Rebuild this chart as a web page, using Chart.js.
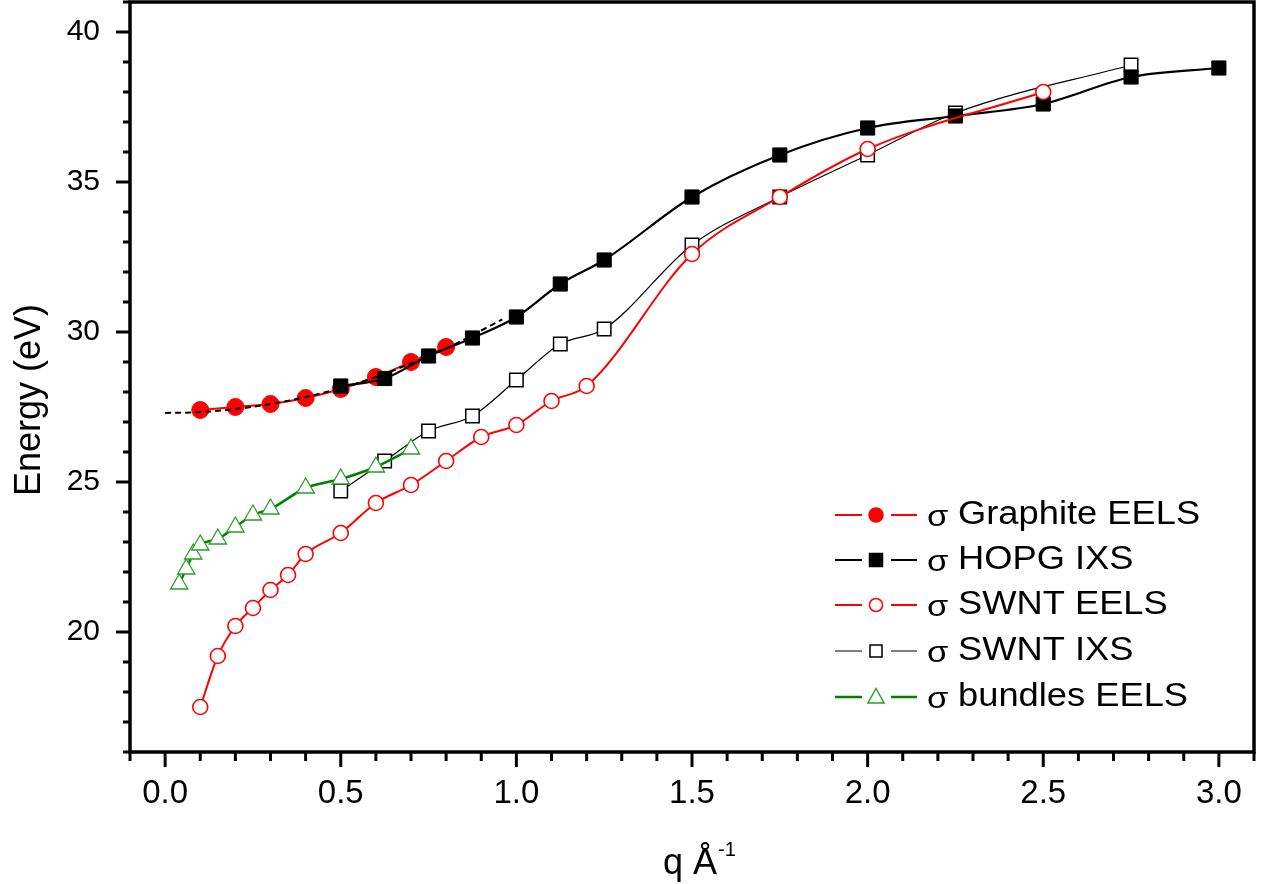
<!DOCTYPE html>
<html>
<head>
<meta charset="utf-8">
<script src="https://cdn.jsdelivr.net/npm/chart.js@4.4.1/dist/chart.umd.min.js"></script>
<style>
html,body{margin:0;padding:0;background:#fff;}
#wrap{width:1273px;height:884px;position:relative;}
</style>
</head>
<body>
<div id="wrap"><canvas id="c"></canvas></div>
<script>
// ---- data ----
const xTickValues = [0, 0.5, 1.0, 1.5, 2.0, 2.5, 3.0];
const yTickValues = [20, 25, 30, 35, 40];

const legendLabels = ['Graphite EELS', 'HOPG IXS', 'SWNT EELS', 'SWNT IXS', 'bundles EELS'];

const graphiteQ = [0.1, 0.2, 0.3, 0.4, 0.5, 0.6, 0.7, 0.8];
const graphiteE = [27.4, 27.5, 27.6, 27.8, 28.1, 28.5, 29.0, 29.5];

const hopgQ = [0.5, 0.625, 0.75, 0.875, 1.0, 1.125, 1.25, 1.5, 1.75, 2.0, 2.25, 2.5, 2.75, 3.0];
const hopgE = [28.2, 28.45, 29.2, 29.8, 30.5, 31.6, 32.4, 34.5, 35.9, 36.8, 37.2, 37.6, 38.5, 38.8];

const swntEelsQ = [0.1, 0.15, 0.2, 0.25, 0.3, 0.35, 0.4, 0.5, 0.6, 0.7, 0.8, 0.9, 1.0, 1.1, 1.2, 1.5, 1.75, 2.0, 2.5];
const swntEelsE = [17.5, 19.2, 20.2, 20.8, 21.4, 21.9, 22.6, 23.3, 24.3, 24.9, 25.7, 26.5, 26.9, 27.7, 28.2, 32.6, 34.5, 36.1, 38.0];

const swntIxsQ = [0.5, 0.625, 0.75, 0.875, 1.0, 1.125, 1.25, 1.5, 1.75, 2.0, 2.25, 2.75];
const swntIxsE = [24.7, 25.7, 26.7, 27.2, 28.4, 29.6, 30.1, 32.9, 34.5, 35.9, 37.3, 38.9];

const bundlesQ = [0.04, 0.06, 0.08, 0.1, 0.15, 0.2, 0.25, 0.3, 0.4, 0.5, 0.6, 0.7];
const bundlesE = [21.6, 22.1, 22.6, 22.9, 23.1, 23.5, 23.9, 24.1, 24.8, 25.1, 25.5, 26.1];

const fitQ = [0.0, 0.1, 0.2, 0.3, 0.4, 0.5, 0.6, 0.7, 0.8, 0.9, 0.96];
const fitE = [27.3, 27.33, 27.43, 27.6, 27.83, 28.13, 28.5, 28.95, 29.45, 30.05, 30.42];

// ---- helpers ----
const pts = (qs, es) => qs.map((q, i) => ({x: q, y: es[i]}));
const FONT = '"Liberation Sans", Arial, Helvetica, sans-serif';

const RED = '#ff0000', BLACK = '#000000', GREEN = '#008000';

// legend style descriptions (same styles as the datasets)
const legendStyles = [
  {color: RED,   lw: 2,   shape: 'circle',   fill: RED,   stroke: RED,   r: 7},
  {color: BLACK, lw: 2,   shape: 'rect',     fill: BLACK, stroke: BLACK, r: 6.5},
  {color: RED,   lw: 2,   shape: 'circle',   fill: '#fff', stroke: RED,  r: 6.5},
  {color: BLACK, lw: 1.2, shape: 'rect',     fill: '#fff', stroke: BLACK, r: 6},
  {color: GREEN, lw: 2.5, shape: 'triangle', fill: '#fff', stroke: '#2a9d2a', r: 8.5}
];

const framePlugin = {
  id: 'frame',
  afterDraw(chart) {
    const {ctx, chartArea: a, scales: {x, y}} = chart;
    ctx.save();
    ctx.strokeStyle = '#000';
    ctx.lineCap = 'butt';
    // x ticks (major every 0.5, minor every 0.1)
    for (let i = -1; i <= 31; i++) {
      const px = x.getPixelForValue(i / 10);
      const major = (i % 5 === 0);
      ctx.lineWidth = 3;
      ctx.beginPath();
      ctx.moveTo(px, a.bottom);
      ctx.lineTo(px, a.bottom + (major ? 15 : 9));
      ctx.stroke();
    }
    // y ticks (major every 5, minor every 1)
    for (let v = 16; v <= 41; v++) {
      const py = y.getPixelForValue(v);
      const major = (v % 5 === 0);
      ctx.lineWidth = 3;
      ctx.beginPath();
      ctx.moveTo(a.left, py);
      ctx.lineTo(a.left - (major ? 14 : 7), py);
      ctx.stroke();
    }
    // frame
    ctx.lineWidth = 3.5;
    ctx.strokeRect(a.left, a.top, a.right - a.left, a.bottom - a.top);

    // axis titles
    ctx.fillStyle = '#000';
    ctx.font = '36px ' + FONT;
    ctx.textAlign = 'center';
    ctx.textBaseline = 'middle';
    ctx.save();
    ctx.translate(30, 400);
    ctx.rotate(-Math.PI / 2);
    ctx.fillText('Energy (eV)', 0, 0);
    ctx.restore();

    ctx.textAlign = 'left';
    ctx.textBaseline = 'alphabetic';
    ctx.font = '36px ' + FONT;
    ctx.fillText('q \u00C5', 663, 874);
    const w = ctx.measureText('q \u00C5').width;
    ctx.font = '20px ' + FONT;
    ctx.fillText('-1', 663 + w + 1, 856);

    // legend
    const rowsY = [515, 560, 605, 651, 697];
    legendStyles.forEach((s, i) => {
      const yy = rowsY[i];
      ctx.strokeStyle = s.color;
      ctx.lineWidth = s.lw;
      ctx.beginPath();
      ctx.moveTo(835, yy); ctx.lineTo(862, yy);
      ctx.moveTo(891, yy); ctx.lineTo(917, yy);
      ctx.stroke();
      ctx.fillStyle = s.fill;
      ctx.strokeStyle = s.stroke;
      ctx.lineWidth = 1.5;
      const cx = 876;
      ctx.beginPath();
      if (s.shape === 'circle') {
        ctx.arc(cx, yy, s.r, 0, Math.PI * 2);
      } else if (s.shape === 'rect') {
        ctx.rect(cx - s.r, yy - s.r, s.r * 2, s.r * 2);
      } else {
        ctx.moveTo(cx, yy - s.r);
        ctx.lineTo(cx + s.r * 0.95, yy + s.r * 0.7);
        ctx.lineTo(cx - s.r * 0.95, yy + s.r * 0.7);
        ctx.closePath();
      }
      ctx.fill();
      ctx.stroke();
      // text
      ctx.fillStyle = '#000';
      ctx.textBaseline = 'middle';
      ctx.textAlign = 'left';
      ctx.font = '30px ' + FONT;
      ctx.save();
      ctx.translate(927, yy + 3);
      ctx.scale(1.15, 1);
      ctx.fillText('\u03C3', 0, 0);
      ctx.restore();
      ctx.save();
      ctx.translate(958, yy);
      ctx.font = '33px ' + FONT;
      ctx.scale(1.1, 1);
      ctx.fillText(legendLabels[i], 0, 0);
      ctx.restore();
    });
    ctx.restore();
  }
};

const common = {showLine: true, fill: false, cubicInterpolationMode: 'monotone', tension: 0.4};

const datasets = [
  Object.assign({}, common, {
    label: 'fit', data: pts(fitQ, fitE), borderColor: BLACK, borderWidth: 2,
    borderDash: [6, 4], pointRadius: 0
  }),
  Object.assign({}, common, {
    label: legendLabels[4], data: pts(bundlesQ, bundlesE), borderColor: GREEN, borderWidth: 2.5,
    pointStyle: 'triangle', pointRadius: 10, pointBackgroundColor: '#fff',
    pointBorderColor: '#2a9d2a', pointBorderWidth: 1.3
  }),
  Object.assign({}, common, {
    label: legendLabels[2], data: pts(swntEelsQ, swntEelsE), borderColor: RED, borderWidth: 2,
    pointStyle: 'circle', pointRadius: 7.5, pointBackgroundColor: '#fff',
    pointBorderColor: RED, pointBorderWidth: 1.6
  }),
  Object.assign({}, common, {
    label: legendLabels[1], data: pts(hopgQ, hopgE), borderColor: BLACK, borderWidth: 2.2,
    pointStyle: 'rect', pointRadius: 10, pointBackgroundColor: BLACK,
    pointBorderColor: BLACK, pointBorderWidth: 1
  }),
  Object.assign({}, common, {
    label: legendLabels[3], data: pts(swntIxsQ, swntIxsE), borderColor: BLACK, borderWidth: 1.2,
    pointStyle: 'rect', pointRadius: 9.5, pointBackgroundColor: '#fff',
    pointBorderColor: BLACK, pointBorderWidth: 1.5
  }),
  Object.assign({}, common, {
    label: legendLabels[0], data: pts(graphiteQ, graphiteE), borderColor: RED, borderWidth: 2,
    pointStyle: 'circle', pointRadius: 8.5, pointBackgroundColor: RED,
    pointBorderColor: RED, pointBorderWidth: 1
  })
];

new Chart(document.getElementById('c'), {
  type: 'scatter',
  data: {datasets},
  options: {
    responsive: true,
    maintainAspectRatio: false,
    animation: false,
    layout: {autoPadding: false, padding: {top: 2, right: 19, left: 0, bottom: 0}},
    plugins: {legend: {display: false}, tooltip: {enabled: false}},
    scales: {
      x: {
        type: 'linear', min: -0.1, max: 3.1,
        grid: {display: true, drawOnChartArea: false, drawTicks: true, tickLength: 14, color: 'rgba(0,0,0,0)'},
        border: {display: false},
        afterBuildTicks: (s) => { s.ticks = xTickValues.map(v => ({value: v})); },
        afterFit: (s) => { s.height = 132; s.paddingLeft = 0; s.paddingRight = 0; },
        ticks: {
          font: {family: FONT, size: 33}, color: '#000', padding: 8,
          maxRotation: 0, autoSkip: false,
          callback: (v) => Number(v).toFixed(1)
        }
      },
      y: {
        type: 'linear', min: 16, max: 41,
        grid: {display: true, drawOnChartArea: false, drawTicks: true, tickLength: 14, color: 'rgba(0,0,0,0)'},
        border: {display: false},
        afterBuildTicks: (s) => { s.ticks = yTickValues.map(v => ({value: v})); },
        afterFit: (s) => { s.width = 130; s.paddingTop = 0; s.paddingBottom = 0; },
        ticks: {
          font: {family: FONT, size: 30}, color: '#000', padding: 16,
          callback: (v) => String(v)
        }
      }
    }
  },
  plugins: [framePlugin]
});
</script>
</body>
</html>
